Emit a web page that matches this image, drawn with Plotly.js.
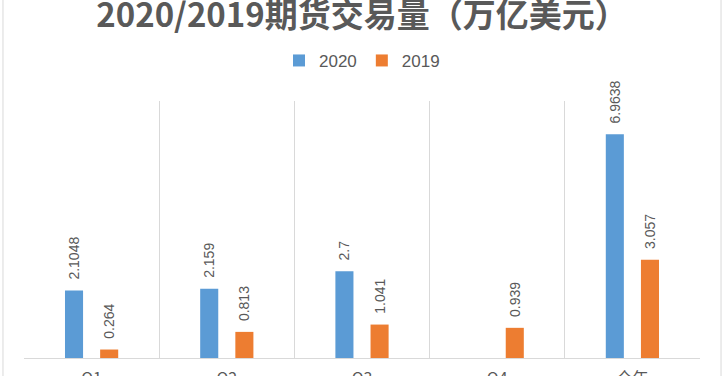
<!DOCTYPE html>
<html>
<head>
<meta charset="utf-8">
<script src="https://cdn.plot.ly/plotly-3.0.1.min.js"></script>
<style>
  html, body { margin: 0; padding: 0; background: #fff; }
  #chart { width: 724px; height: 376px; }
</style>
</head>
<body>
<div id="chart"></div>
<script>
const categories = ['Q1', 'Q2', 'Q3', 'Q4', '全年'];
const values2020 = [2.1048, 2.159, 2.7, null, 6.9638];
const values2019 = [0.264, 0.813, 1.041, 0.939, 3.057];
const seriesNames = ['2020', '2019'];
const chartTitle = '2020/2019期货交易量（万亿美元）';

const gray = '#595959';
const labelFont = { family: 'Liberation Sans, Arial, sans-serif', size: 14, color: gray };

function barTrace(name, vals, color) {
  return {
    type: 'bar',
    name: name,
    x: categories,
    y: vals,
    marker: { color: color },
    text: vals.map(v => v === null ? '' : '\u00a0\u00a0' + String(v)),
    textposition: 'outside',
    textangle: -90,
    constraintext: 'none',
    textfont: labelFont,
    cliponaxis: false,
    hoverinfo: 'x+y'
  };
}

const data = [
  barTrace(seriesNames[0], values2020, '#5b9bd5'),
  barTrace(seriesNames[1], values2019, '#ed7d31')
];

const layout = {
  width: 724,
  height: 376,
  margin: { l: 24, r: 24, t: 101, b: 18, pad: 0 },
  paper_bgcolor: '#ffffff',
  plot_bgcolor: '#ffffff',
  title: {
    text: '<b>' + chartTitle + '</b>',
    font: { family: 'Noto Sans CJK SC, sans-serif', size: 33, color: gray },
    x: 0.5, xanchor: 'center',
    xref: 'paper',
    y: 0.96, yanchor: 'middle', yref: 'container'
  },
  showlegend: true,
  legend: {
    orientation: 'h',
    x: 0.5, xanchor: 'center',
    y: 1.156, yanchor: 'middle',
    font: { family: 'Liberation Sans Narrow, Liberation Sans, Arial, sans-serif', size: 17, color: gray },
    itemwidth: 30,
    traceorder: 'normal'
  },
  barmode: 'group',
  bargap: 0.48,
  bargroupgap: 0.486,
  xaxis: {
    type: 'category',
    tickson: 'boundaries',
    showgrid: true,
    gridcolor: '#d9d9d9',
    gridwidth: 1,
    showline: true,
    linecolor: '#d9d9d9',
    linewidth: 1,
    ticks: '',
    ticklabelstandoff: 6,
    tickfont: { family: 'Noto Sans CJK SC, sans-serif', size: 16, color: gray },
    fixedrange: true
  },
  yaxis: {
    range: [0, 8],
    visible: false,
    showgrid: false,
    zeroline: false,
    fixedrange: true
  },
  shapes: [{
    type: 'rect', xref: 'paper', yref: 'paper',
    x0: -0.0311, x1: 1.0311, y0: -0.5, y1: 2,
    line: { color: '#d9d9d9', width: 1 },
    fillcolor: 'rgba(0,0,0,0)',
    layer: 'below'
  }]
};

Plotly.newPlot('chart', data, layout, { displayModeBar: false, staticPlot: true });
</script>
</body>
</html>
